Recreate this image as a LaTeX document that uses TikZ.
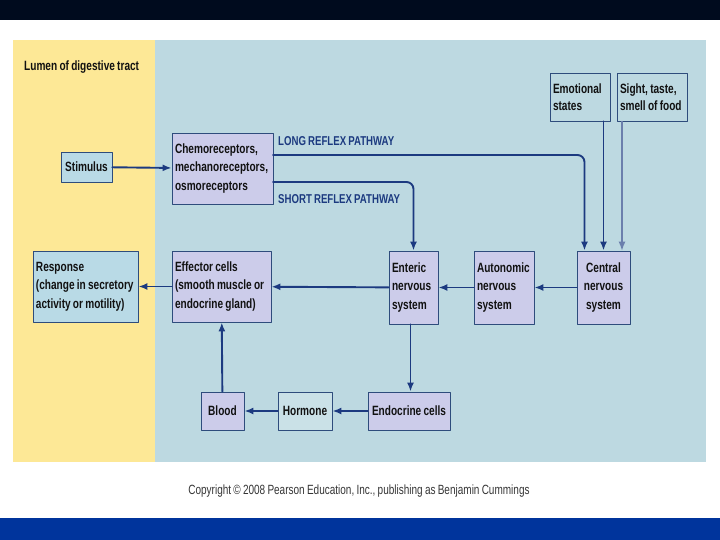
\documentclass[tikz,border=0pt]{standalone}
\usepackage{fontspec}
\setmainfont{Liberation Sans}[FakeStretch=0.75,WordSpace=0.8]
\usetikzlibrary{arrows.meta}
\definecolor{topband}{HTML}{000B1E}
\definecolor{botband}{HTML}{00349C}
\definecolor{lumen}{HTML}{FDE896}
\definecolor{tissue}{HTML}{BDD9E1}
\definecolor{lav}{HTML}{CCCCEA}
\definecolor{pale}{HTML}{B9DAE6}
\definecolor{edge}{HTML}{2E4C7C}
\definecolor{flowblue}{HTML}{1C3A80}
\definecolor{ink}{HTML}{111111}
\begin{document}
\begin{tikzpicture}[
    x=1bp,y=-1bp,line cap=round,line join=round,
    box/.style={draw=edge,line width=0.8bp,inner sep=3bp,text=ink,
        font=\bfseries\fontsize{13.5}{18.5}\selectfont,align=flush left},
    cell/.style={box,fill=lav},
    outer/.style={box,fill=pale},
    flow/.style={draw=flowblue,line width=1.9bp,-{Latex[length=9bp,width=7bp]}},
    pathlabel/.style={text=flowblue,font=\bfseries\fontsize{12.9}{14}\selectfont,anchor=west,inner sep=0pt}
]
    \useasboundingbox (0,0) rectangle (720,540);
    % slide and panels
    \fill[topband] (0,0) rectangle (720,20);
    \fill[botband] (0,518) rectangle (720,540);
    \fill[lumen] (13,40) rectangle (155,462);
    \fill[tissue] (155,40) rectangle (706,462);
    \node[text=ink,font=\bfseries\fontsize{13.5}{15}\selectfont,anchor=west,inner sep=0pt] (lumenlabel) at (24,67) {Lumen of digestive tract};

    % boxes
    \node[outer,minimum width=51bp,minimum height=30bp] (stimulus) at (86.5,167) {Stimulus};
    \node[cell,text width=95bp,minimum height=71bp] (receptors) at (222.5,168.5) {Chemoreceptors,\\mechanoreceptors,\\osmoreceptors};
    \node[outer,text width=99bp,minimum height=71bp] (response) at (85.5,286.5) {Response\\(change in secretory\\activity or motility)};
    \node[cell,text width=93bp,minimum height=71bp] (effector) at (221.5,286.5) {Effector cells\\(smooth muscle or\\endocrine gland)};
    \node[cell,text width=43bp,minimum height=73bp] (enteric) at (413.5,287.5) {Enteric\\nervous\\system};
    \node[cell,text width=54bp,minimum height=73bp] (autonomic) at (504,287.5) {Autonomic\\nervous\\system};
    \node[cell,align=flush center,minimum width=53bp,minimum height=73bp] (cns) at (603.5,287.5) {Central\\nervous\\system};
    \node[cell,align=flush center,minimum width=82bp,minimum height=38bp] (endocrine) at (409,411) {Endocrine cells};
    \node[box,fill=tissue!80!white,minimum width=54bp,minimum height=38bp] (hormone) at (305,411) {Hormone};
    \node[cell,minimum width=43bp,minimum height=38bp] (blood) at (222.5,411) {Blood};
    \node[box,fill=tissue,text width=54bp,minimum height=48bp,font=\bfseries\fontsize{13.5}{17}\selectfont] (emotion) at (580,97) {Emotional\\states};
    \node[box,fill=tissue,text width=64bp,minimum height=48bp,font=\bfseries\fontsize{13.5}{17}\selectfont] (senses) at (652,97) {Sight, taste,\\smell of food};

    % reflex pathways
    \coordinate (longstart) at (273,155);
    \coordinate (shortstart) at (273,182);
    \node[pathlabel] (longlabel) at (278,141) {LONG REFLEX PATHWAY};
    \node[pathlabel] (shortlabel) at (278,199) {SHORT REFLEX PATHWAY};
    \draw[flow] (stimulus) -- (receptors);
    \draw[flow,rounded corners=7bp] (longstart) -| ([xshift=-19bp]cns.north);
    \draw[flow,rounded corners=7bp] (shortstart) -| (enteric.north);
    \draw[flow] (emotion.south -| cns.north) -- (cns.north);
    \draw[flow,line width=1.2bp,draw=flowblue!65!white] ([xshift=18.5bp]cns.north |- senses.south) -- ([xshift=18.5bp]cns.north);

    % effector chain
    \draw[flow] (cns) -- (autonomic);
    \draw[flow] (autonomic) -- (enteric);
    \draw[flow] (enteric) -- (effector);
    \draw[flow] (effector) -- (response);
    \draw[flow] ([xshift=-3bp]enteric.south) -- ([xshift=-3bp]enteric.south |- endocrine.north);
    \draw[flow] (endocrine) -- (hormone);
    \draw[flow] (hormone) -- (blood);
    \draw[flow] (blood) -- (effector);

    \node[text=ink!85!white,font=\fontsize{13.4}{15}\selectfont,inner sep=0pt] (copyright) at (359,491) {Copyright \textcopyright\ 2008 Pearson Education, Inc., publishing as Benjamin Cummings};
\end{tikzpicture}
\end{document}
